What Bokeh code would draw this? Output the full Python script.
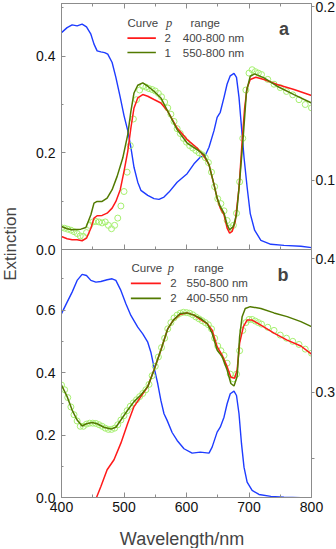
import math
from bokeh.plotting import figure
from bokeh.layouts import column, row
from bokeh.models import (Range1d, LinearAxis, FixedTicker, PrintfTickFormatter, Label,
                          CustomLabelingPolicy)
from bokeh.embed import file_html
from bokeh.resources import INLINE

# ---------------- data : panel a ----------------
wl_a_blue = [400, 409, 417, 425, 433, 440, 447, 452, 457, 463, 469, 474, 481, 487, 494, 500, 506, 511, 516, 522,
             527, 538, 548, 556, 564, 572, 585, 601, 612, 622, 630, 636, 644, 649, 654, 660, 665, 670, 676, 680,
             684, 688, 692, 697, 702, 709, 719, 735, 756, 783, 800]
blue_a = [0.1852, 0.1881, 0.1897, 0.1891, 0.1901, 0.1885, 0.1843, 0.1786, 0.1747, 0.1741, 0.1737, 0.1728, 0.1680,
          0.1594, 0.1479, 0.1374, 0.1287, 0.1191, 0.1076, 0.0990, 0.0943, 0.0914, 0.0895, 0.0891, 0.0904, 0.0933,
          0.0990, 0.1039, 0.1096, 0.1134, 0.1144, 0.1191, 0.1287, 0.1364, 0.1393, 0.1479, 0.1556, 0.1603, 0.1617,
          0.1594, 0.1479, 0.1306, 0.1134, 0.0961, 0.0809, 0.0713, 0.0655, 0.0632, 0.0626, 0.0621, 0.0613]

wl_a_red = [400, 409, 417, 425, 433, 440, 447, 452, 457, 465, 473, 481, 487, 494, 500, 506, 511, 516, 522, 530,
            538, 548, 559, 570, 585, 601, 617, 628, 636, 644, 649, 654, 660, 665, 669, 673, 678, 684, 689, 693,
            697, 702, 711, 724, 745, 772, 800]
red_a = [0.0269, 0.0222, 0.0201, 0.0201, 0.0181, 0.0234, 0.0441, 0.0649, 0.0698, 0.0705, 0.0752, 0.0856, 0.0995,
         0.1237, 0.1617, 0.2031, 0.2514, 0.2928, 0.3136, 0.3206, 0.3171, 0.3103, 0.3032, 0.2860, 0.2514, 0.2274,
         0.2100, 0.1927, 0.1755, 0.1341, 0.1063, 0.0856, 0.0719, 0.0441, 0.0338, 0.0373, 0.0580, 0.1270, 0.2238,
         0.2928, 0.3343, 0.3517, 0.3565, 0.3517, 0.3413, 0.3310, 0.3186]

wl_a_olive = [400, 409, 417, 431, 439, 447, 452, 457, 465, 473, 481, 489, 498, 506, 511, 516, 522, 530, 538, 548,
              559, 570, 585, 601, 617, 628, 636, 644, 649, 654, 660, 665, 669, 675, 680, 685, 691, 696, 702, 709,
              724, 745, 772, 800]
olive_a = [0.0477, 0.0429, 0.0408, 0.0421, 0.0456, 0.0719, 0.0960, 0.0995, 0.0995, 0.1063, 0.1237, 0.1513, 0.1892,
           0.2377, 0.2860, 0.3239, 0.3399, 0.3447, 0.3378, 0.3275, 0.3136, 0.2860, 0.2481, 0.2203, 0.2066, 0.1963,
           0.1755, 0.1341, 0.1063, 0.0891, 0.0752, 0.0512, 0.0408, 0.0477, 0.0719, 0.1409, 0.2377, 0.3275, 0.3585,
           0.3633, 0.3550, 0.3378, 0.3206, 0.3032]

wl_pts = [400, 405, 410, 415, 420, 425, 430, 435, 440, 445, 450, 455, 460, 465, 470, 475, 480, 485, 490, 495,
          500, 505, 510, 515, 520, 525, 530, 535, 540, 545, 550, 555, 560, 565, 570, 575, 580, 585, 590, 595,
          600, 605, 610, 615, 620, 625, 630, 635, 640, 645, 650, 655, 660, 665, 670, 675, 680, 685, 690, 695,
          700, 705, 710, 715, 720, 730, 740, 750, 760, 770, 780, 790, 800]
meas_a = [0.045, 0.044, 0.042, 0.040, 0.037, 0.033, 0.028, 0.027, 0.035, 0.050, 0.057, 0.058, 0.057, 0.055, 0.057,
          0.050, 0.043, 0.050, 0.065, 0.090, 0.120, 0.160, 0.215, 0.270, 0.310, 0.330, 0.338, 0.336, 0.333, 0.331,
          0.328, 0.323, 0.316, 0.305, 0.293, 0.280, 0.265, 0.250, 0.240, 0.230, 0.222, 0.215, 0.210, 0.205, 0.200,
          0.196, 0.190, 0.180, 0.160, 0.130, 0.105, 0.095, 0.080, 0.060, 0.045, 0.050, 0.075, 0.140, 0.230, 0.330,
          0.365, 0.372, 0.368, 0.365, 0.362, 0.352, 0.342, 0.335, 0.327, 0.320, 0.310, 0.300, 0.293]

# ---------------- data : panel b ----------------
wl_b_blue = [400, 409, 417, 425, 433, 440, 447, 455, 463, 473, 481, 487, 495, 503, 511, 522, 530, 538, 543, 548,
             554, 559, 564, 569, 577, 585, 596, 609, 622, 636, 641, 649, 654, 660, 665, 670, 676, 680, 684, 688,
             692, 697, 705, 716, 735, 756, 783, 800]
blue_b = [0.3589, 0.3676, 0.3751, 0.3839, 0.3884, 0.3876, 0.3839, 0.3826, 0.3831, 0.3844, 0.3851, 0.3839, 0.3764,
          0.3664, 0.3576, 0.3488, 0.3438, 0.3375, 0.3300, 0.3188, 0.3063, 0.2938, 0.2838, 0.2788, 0.2697, 0.2637,
          0.2575, 0.2542, 0.2550, 0.2542, 0.2587, 0.2700, 0.2737, 0.2812, 0.2913, 0.2988, 0.3008, 0.2975, 0.2838,
          0.2613, 0.2437, 0.2324, 0.2262, 0.2232, 0.2217, 0.2212, 0.2208, 0.2200]

wl_b_red = [456, 463, 473, 484, 495, 506, 516, 527, 538, 548, 559, 570, 579, 590, 601, 612, 622, 633, 641, 649,
            657, 665, 671, 677, 681, 685, 691, 697, 705, 719, 740, 761, 783, 800]
red_b = [0.000, 0.035, 0.089, 0.121, 0.174, 0.238, 0.291, 0.323, 0.355, 0.408, 0.472, 0.540, 0.568, 0.587, 0.591,
         0.584, 0.570, 0.557, 0.536, 0.483, 0.456, 0.419, 0.385, 0.382, 0.408, 0.494, 0.547, 0.568, 0.568, 0.552,
         0.526, 0.504, 0.485, 0.459]

wl_b_olive = [400, 409, 417, 425, 433, 440, 449, 457, 468, 479, 487, 495, 506, 516, 527, 538, 548, 559, 570, 579,
              590, 601, 612, 622, 633, 641, 649, 657, 665, 671, 676, 681, 685, 689, 694, 702, 719, 740, 761, 783, 800]
olive_b = [0.360, 0.323, 0.280, 0.248, 0.229, 0.236, 0.240, 0.236, 0.225, 0.219, 0.225, 0.248, 0.280, 0.307, 0.328,
           0.355, 0.408, 0.472, 0.540, 0.568, 0.589, 0.591, 0.584, 0.574, 0.557, 0.526, 0.472, 0.451, 0.408, 0.365,
           0.357, 0.387, 0.515, 0.579, 0.605, 0.611, 0.605, 0.591, 0.579, 0.563, 0.547]

meas_b = [0.360, 0.345, 0.320, 0.290, 0.265, 0.245, 0.228, 0.228, 0.235, 0.238, 0.238, 0.237, 0.233, 0.228, 0.222,
          0.218, 0.218, 0.222, 0.233, 0.248, 0.262, 0.278, 0.292, 0.303, 0.313, 0.323, 0.333, 0.345, 0.362, 0.390,
          0.420, 0.450, 0.480, 0.510, 0.540, 0.560, 0.575, 0.584, 0.590, 0.593, 0.592, 0.590, 0.585, 0.578, 0.572,
          0.566, 0.560, 0.553, 0.540, 0.510, 0.485, 0.470, 0.455, 0.430, 0.395, 0.380, 0.395, 0.470, 0.535, 0.560,
          0.570, 0.570, 0.565, 0.560, 0.555, 0.545, 0.535, 0.520, 0.510, 0.500, 0.490, 0.475, 0.462]

# legend texts
legend_a = [("2", "400-800 nm"), ("1", "550-800 nm")]
legend_b = [("2", "550-800 nm"), ("2", "400-550 nm")]

x_ticks = [400, 500, 600, 700, 800]
x_minor = [450, 550, 650, 750]

# ---------------- styles ----------------
FONT = "Liberation Sans"
AXC = "#8c8c8c"
RED = "#ff1a1a"
OLIVE = "#527a00"
BLUE = "#1e3cff"
PTS = "#a6f070"
FRAME_W = 250
LEFT_W = 20


def style_axis(ax, ticks, minor, fmt, tin, tout, fs, standoff):
    ax.ticker = FixedTicker(ticks=ticks, minor_ticks=minor)
    ax.formatter = PrintfTickFormatter(format=fmt)
    ax.axis_line_color = AXC
    ax.major_tick_line_color = AXC
    ax.minor_tick_line_color = AXC
    ax.major_tick_in = tin
    ax.major_tick_out = tout
    ax.minor_tick_in = max(tin - 2, 0)
    ax.minor_tick_out = max(tout - 1, 0)
    ax.major_label_text_font = FONT
    ax.major_label_text_font_size = fs
    ax.major_label_text_color = "#111111"
    ax.major_label_standoff = standoff


def hide_labels(ax):
    ax.major_label_text_font_size = "0px"
    ax.major_label_standoff = 0
    ax.major_label_policy = CustomLabelingPolicy(
        code="for (const i of indices) { indices.unset(i) } return indices")


def make_panel(yl, yr, fh, top, bottom, lticks, lminor, rticks, rminor):
    p = figure(frame_width=FRAME_W, frame_height=fh,
               x_range=Range1d(400, 800), y_range=Range1d(*yl),
               output_backend="svg", toolbar_location=None,
               min_border_left=61 - LEFT_W, min_border_right=24,
               min_border_top=top, min_border_bottom=bottom)
    p.extra_y_ranges = {"r": Range1d(*yr)}
    p.grid.visible = False
    p.outline_line_color = AXC
    style_axis(p.yaxis[0], lticks, lminor, "%.1f", 4, 0, "14px", 6)
    rax = LinearAxis(y_range_name="r")
    style_axis(rax, rticks, rminor, "%.1f", 0, 3, "14px", 1)
    rax.minor_tick_out = 3
    p.add_layout(rax, "right")
    return p


def add_legend(p, xs, ys, entries, tag, tag_xy):
    # xs: curve-text-left, line x0, line x1, p-center, range-center, num-center, nm-left
    xc, lx0, lx1, xp, xr, xn, xnm = xs
    yh, y1, y2 = ys
    fs = "11.5px"
    p.add_layout(Label(x=xc, y=yh, text="Curve", text_font=FONT, text_font_size=fs,
                       text_align="left", text_baseline="middle"))
    p.add_layout(Label(x=xp, y=yh, text="p", text_font="Liberation Serif", text_font_style="italic",
                       text_font_size="12.5px", text_align="center", text_baseline="middle"))
    p.add_layout(Label(x=xr, y=yh, text="range", text_font=FONT, text_font_size=fs,
                       text_align="center", text_baseline="middle"))
    for (num, rng), yy, col in zip(entries, (y1, y2), (RED, OLIVE)):
        p.line([lx0, lx1], [yy, yy], line_color=col, line_width=1.6)
        p.add_layout(Label(x=xn, y=yy, text=num, text_font=FONT, text_font_size=fs,
                           text_align="center", text_baseline="middle"))
        p.add_layout(Label(x=xnm, y=yy, text=rng, text_font=FONT, text_font_size=fs,
                           text_align="left", text_baseline="middle"))
    p.add_layout(Label(x=tag_xy[0], y=tag_xy[1], text=tag, text_font=FONT, text_font_style="bold",
                       text_font_size="18px", text_align="center", text_baseline="middle"))


# ---------------- panel a ----------------
pa = make_panel((0, 0.509), (0.0602, 0.2020), 246, 3, 8,
                [0.0, 0.2, 0.4], [0.1, 0.3, 0.5], [0.1, 0.2], [])
style_axis(pa.xaxis[0], x_ticks, x_minor, "%d", 5, 0, "0px", 0)
hide_labels(pa.xaxis[0])
top_ax = LinearAxis()
style_axis(top_ax, x_ticks, x_minor, "%d", 5, 0, "0px", 0)
hide_labels(top_ax)
pa.add_layout(top_ax, "above")

pa.line(wl_a_blue, blue_a, y_range_name="r", line_color=BLUE, line_width=1.4)
pa.scatter(wl_pts, meas_a, marker="circle", size=6, fill_color=None, line_color=PTS, line_width=1)
pa.line(wl_a_red, red_a, line_color=RED, line_width=1.5)
pa.line(wl_a_olive, olive_a, line_color=OLIVE, line_width=1.5)
add_legend(pa, (505.5, 505.5, 551, 572, 630, 570, 594), (0.4696, 0.4373, 0.4075),
           legend_a, "a", (756, 0.457))

# ---------------- panel b ----------------
pb = make_panel((0, 0.794), (0.2209, 0.4071), 248, 0, 21,
                [0.0, 0.2, 0.4, 0.6], [0.1, 0.3, 0.5, 0.7], [0.3, 0.4], [0.25])
style_axis(pb.xaxis[0], x_ticks, x_minor, "%d", 5, 0, "14px", 4)
pb.background_fill_alpha = 0
pb.border_fill_alpha = 0
pb.styles = {"margin-top": "-8px"}

pb.line(wl_b_blue, blue_b, y_range_name="r", line_color=BLUE, line_width=1.4)
pb.scatter(wl_pts, meas_b, marker="circle", size=6, fill_color=None, line_color=PTS, line_width=1)
pb.line(wl_b_red, red_b, line_color=RED, line_width=1.5)
pb.line(wl_b_olive, olive_b, line_color=OLIVE, line_width=1.5)
add_legend(pb, (512, 511, 559, 575, 636, 579, 600), (0.7334, 0.6854, 0.6375),
           legend_b, "b", (754.5, 0.712))

# ---------------- x title strip ----------------
BW, BH = 336 - LEFT_W, 30
bot = figure(width=BW, height=BH, x_range=Range1d(0, BW), y_range=Range1d(0, BH),
             min_border=0, x_axis_type=None, y_axis_type=None,
             output_backend="svg", toolbar_location=None)
bot.outline_line_color = None
bot.grid.visible = False
bot.add_layout(Label(x=173 - LEFT_W, y=BH - 20, text="Wavelength/nm", text_font=FONT,
                     text_font_size="18px", text_align="center", text_baseline="middle"))

# ---------------- y title strip ----------------
H = 548
lab = figure(width=LEFT_W, height=H, x_range=Range1d(0, LEFT_W), y_range=Range1d(0, H),
             min_border=0, x_axis_type=None, y_axis_type=None,
             output_backend="svg", toolbar_location=None)
lab.outline_line_color = None
lab.grid.visible = False
lab.add_layout(Label(x=LEFT_W / 2, y=H - 243.5, text="Extinction", angle=math.pi / 2, text_font=FONT,
                     text_font_size="17px", text_align="center", text_baseline="middle"))

layout = row(lab, column(pa, pb, bot))
open("out.html", "w").write(file_html(layout, INLINE))
